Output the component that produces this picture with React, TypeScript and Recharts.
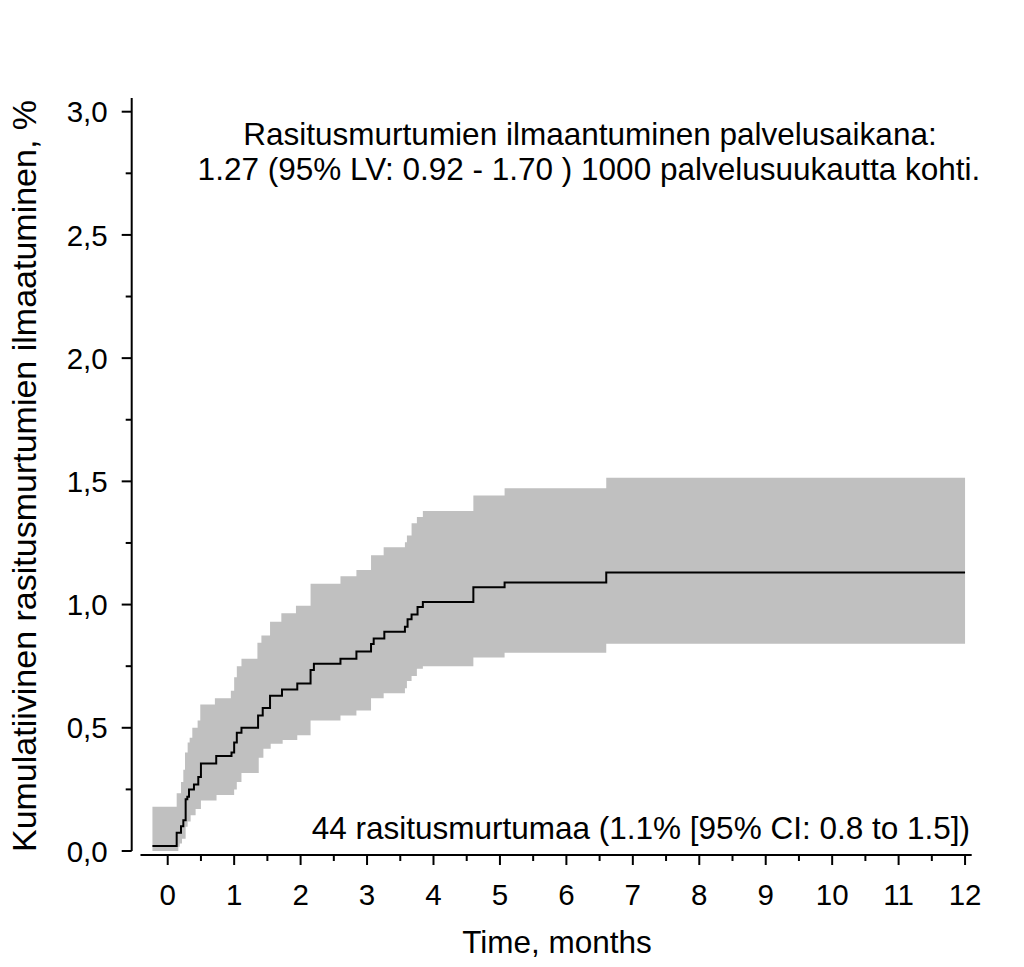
import React from 'react';
import { ComposedChart, Area, Line, XAxis, YAxis, ReferenceLine, Customized } from 'recharts';

// Kaplan-Meier style cumulative incidence (%), step points
const curveTime = [-0.23, 0.135, 0.2, 0.235, 0.27, 0.295, 0.32, 0.395, 0.46, 0.5, 0.73, 0.96, 1.0, 1.04, 1.11, 1.36, 1.43, 1.54, 1.72, 1.95, 2.15, 2.2, 2.6, 2.84, 3.06, 3.1, 3.26, 3.57, 3.61, 3.67, 3.76, 3.84, 4.6, 5.07, 6.6, 12.0];
const curveValue = [0.02, 0.074, 0.1, 0.125, 0.21, 0.22, 0.25, 0.27, 0.3, 0.355, 0.386, 0.4, 0.44, 0.48, 0.5, 0.55, 0.58, 0.63, 0.655, 0.68, 0.735, 0.76, 0.78, 0.81, 0.84, 0.862, 0.89, 0.91, 0.94, 0.96, 0.99, 1.01, 1.07, 1.09, 1.13, 1.13];

// 95% confidence band
const bandTime = [-0.23, 0.135, 0.16, 0.18, 0.2, 0.215, 0.235, 0.26, 0.27, 0.3, 0.33, 0.345, 0.37, 0.42, 0.45, 0.49, 0.5, 0.71, 0.735, 0.95, 1.0, 1.04, 1.11, 1.35, 1.37, 1.41, 1.44, 1.54, 1.55, 1.71, 1.73, 1.93, 1.95, 2.15, 2.6, 2.84, 3.06, 3.25, 3.57, 3.6, 3.67, 3.75, 3.84, 4.6, 5.07, 6.6, 12.0];
const bandLow = [0.0, 0.0, 0.017, 0.03, 0.03, 0.05, 0.05, 0.05, 0.098, 0.12, 0.12, 0.145, 0.145, 0.17, 0.17, 0.17, 0.205, 0.205, 0.227, 0.227, 0.25, 0.28, 0.317, 0.317, 0.378, 0.378, 0.415, 0.415, 0.435, 0.435, 0.45, 0.45, 0.47, 0.53, 0.55, 0.57, 0.62, 0.64, 0.66, 0.69, 0.71, 0.74, 0.75, 0.785, 0.804, 0.841, 0.841];
const bandHigh = [0.18, 0.234, 0.234, 0.234, 0.28, 0.28, 0.33, 0.4, 0.4, 0.44, 0.46, 0.46, 0.5, 0.5, 0.53, 0.595, 0.595, 0.62, 0.62, 0.65, 0.705, 0.75, 0.78, 0.845, 0.845, 0.875, 0.875, 0.93, 0.93, 0.965, 0.965, 0.995, 0.995, 1.085, 1.115, 1.14, 1.2, 1.233, 1.253, 1.28, 1.33, 1.355, 1.38, 1.443, 1.472, 1.515, 1.515];

const xTicks = [0, 0.5, 1, 1.5, 2, 2.5, 3, 3.5, 4, 4.5, 5, 5.5, 6, 6.5, 7, 7.5, 8, 8.5, 9, 9.5, 10, 10.5, 11, 11.5, 12];
const yTicks = [0, 0.25, 0.5, 0.75, 1.0, 1.25, 1.5, 1.75, 2.0, 2.25, 2.5, 2.75, 3.0];

const titleLine1 = 'Rasitusmurtumien ilmaantuminen palvelusaikana:';
const titleLine2 = '1.27 (95% LV: 0.92 - 1.70 ) 1000 palvelusuukautta kohti.';
const noteText = '44 rasitusmurtumaa (1.1% [95% CI: 0.8 to 1.5])';
const xLabel = 'Time, months';
const yLabel = 'Kumulatiivinen rasitusmurtumien ilmaatuminen, %';

const curveData = curveTime.map((t, i) => ({ t, v: curveValue[i] }));
const bandData = bandTime.map((t, i) => ({ t, lo: bandLow[i], hi: bandHigh[i] }));

const W = 1020;
const H = 965;
const X_MIN = -0.542;
const X_MAX = 12.1;
const Y_MIN = -0.0162;
const Y_MAX = 3.0556;
const FONT = '"Liberation Sans", Arial, Helvetica, sans-serif';

const isMajor = (v: number, step: number) => Math.abs(v / step - Math.round(v / step)) < 1e-6;

const YTick = (props: any) => {
  const { x, y, payload } = props;
  const v = payload.value as number;
  const major = isMajor(v, 0.5);
  const len = major ? 10 : 6;
  return (
    <g>
      <line x1={x - len} x2={x} y1={y} y2={y} stroke="#000" strokeWidth={2} />
      {major && (
        <text x={x - 24} y={y} dy="0.36em" textAnchor="end" fontFamily={FONT} fontSize={29.5} fill="#000">
          {v.toFixed(1).replace('.', ',')}
        </text>
      )}
    </g>
  );
};

const XTick = (props: any) => {
  const { x, y, payload } = props;
  const v = payload.value as number;
  const major = isMajor(v, 1);
  const len = major ? 10 : 6;
  return (
    <g>
      <line x1={x} x2={x} y1={y} y2={y + len} stroke="#000" strokeWidth={2} />
      {major && (
        <text x={x} y={y + 50} textAnchor="middle" fontFamily={FONT} fontSize={29.5} fill="#000">
          {String(v)}
        </text>
      )}
    </g>
  );
};

const Texts = () => (
  <g fontFamily={FONT} fill="#000">
    <text x={590} y={145} textAnchor="middle" fontSize={31.5}>{titleLine1}</text>
    <text x={589} y={180} textAnchor="middle" fontSize={31.5}>{titleLine2}</text>
    <text x={970} y={839} textAnchor="end" fontSize={31.5}>{noteText}</text>
    <text x={557} y={953} textAnchor="middle" fontSize={31.5}>{xLabel}</text>
    <text x={36} y={476} textAnchor="middle" fontSize={34} transform="rotate(-90 36 476)">{yLabel}</text>
  </g>
);

export default function App() {
  return (
    <div style={{ position: 'absolute', left: 0, top: 0, width: W, height: H, background: '#fff' }}>
      <ComposedChart
        width={W}
        height={H}
        margin={{ top: 98, right: W - 971.7, bottom: H - 855 - 60, left: 131.7 - 60 }}
      >
        <XAxis
          dataKey="t"
          type="number"
          domain={[X_MIN, X_MAX]}
          allowDataOverflow
          ticks={xTicks}
          interval={0}
          height={60}
          axisLine={false}
          tickLine={false}
          tickSize={0}
          tickMargin={0}
          tick={<XTick />}
        />
        <YAxis
          type="number"
          domain={[Y_MIN, Y_MAX]}
          allowDataOverflow
          ticks={yTicks}
          interval={0}
          width={60}
          axisLine={false}
          tickLine={false}
          tickSize={0}
          tickMargin={0}
          tick={<YTick />}
        />
        <Area
          data={bandData}
          dataKey={(d: any) => [d.lo, d.hi]}
          type="stepAfter"
          stroke="none"
          fill="#c0c0c0"
          fillOpacity={1}
          isAnimationActive={false}
          dot={false}
          activeDot={false}
        />
        <Line
          data={curveData}
          dataKey="v"
          type="stepAfter"
          stroke="#000"
          strokeWidth={2}
          dot={false}
          activeDot={false}
          isAnimationActive={false}
        />
        <ReferenceLine
          segment={[{ x: X_MIN, y: 0 }, { x: X_MIN, y: Y_MAX }]}
          stroke="#000"
          strokeWidth={2}
          ifOverflow="visible"
        />
        <ReferenceLine
          segment={[{ x: -0.41, y: Y_MIN }, { x: X_MAX, y: Y_MIN }]}
          stroke="#000"
          strokeWidth={2}
          ifOverflow="visible"
        />
        <Customized component={Texts} />
      </ComposedChart>
    </div>
  );
}
